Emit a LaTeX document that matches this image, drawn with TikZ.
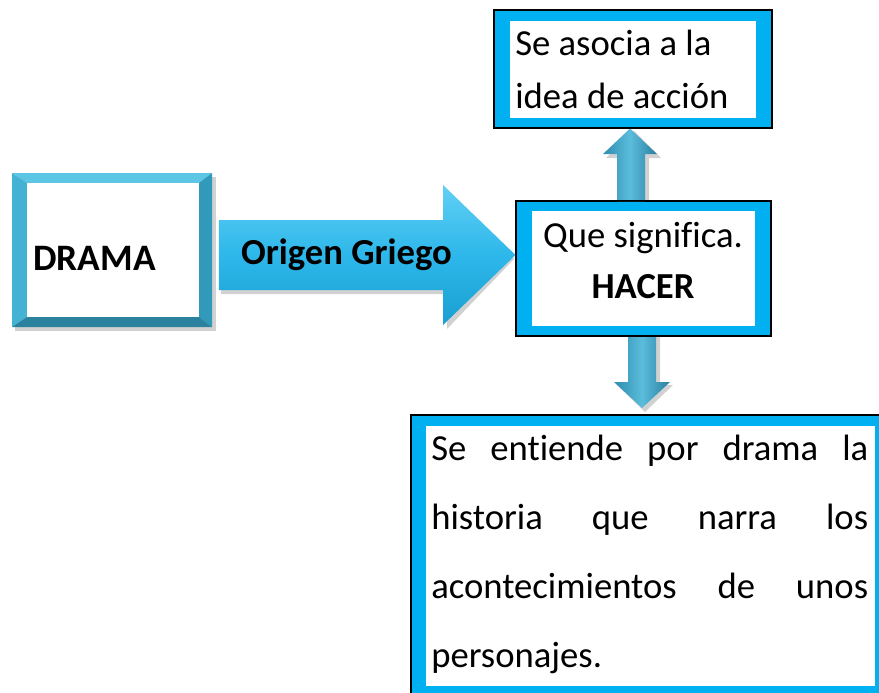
\documentclass[tikz,border=0pt]{standalone}
\usepackage{fontspec}
\setmainfont{Carlito}[Ligatures={NoCommon}]
\usetikzlibrary{fit,shadows}
\definecolor{ringcyan}{HTML}{00B0F0}
\definecolor{bevtop}{HTML}{5CC6E4}
\definecolor{bevleft}{HTML}{44B2D3}
\definecolor{bevright}{HTML}{3199BA}
\definecolor{bevbot}{HTML}{2A829F}
\definecolor{arrlight}{HTML}{62D0F4}
\definecolor{arrmid}{HTML}{2DB7EA}
\definecolor{arrdark}{HTML}{1A9FD2}
\definecolor{tealL}{HTML}{2F8DB0}
\definecolor{tealM}{HTML}{5BBCDB}
\definecolor{tealR}{HTML}{2A7FA0}
\tikzset{
  txt/.style={font=\fontsize{27.5}{40}\selectfont, inner sep=0pt},
  ringouter/.style={draw=black, line width=0.8pt, fill=ringcyan, inner sep=0pt},
  ringinner/.style={fill=white, inner sep=0pt},
  shadowish/.style={fill=black, opacity=0.18},
  bigarrow/.style={top color=arrlight, bottom color=arrdark, middle color=arrmid},
  smallarrow/.style={left color=tealL, right color=tealR, middle color=tealM},
}
\begin{document}
\begin{tikzpicture}[x=0.75pt,y=-0.75pt]
\clip (0,0) rectangle (879,693);
\fill[white] (0,0) rectangle (879,693);

% ---- DRAMA bevel box ----
\fill[shadowish] (15,177) rectangle (216,331);
\node[fit={(12,173)(212,327)}, inner sep=0pt] (drama) {};
\fill[bevtop]   (12,173) -- (212,173) -- (199,183) -- (27,183) -- cycle;
\fill[bevleft]  (12,173) -- (27,183) -- (27,317) -- (12,327) -- cycle;
\fill[bevright] (212,173) -- (212,327) -- (199,317) -- (199,183) -- cycle;
\fill[bevbot]   (12,327) -- (212,327) -- (199,317) -- (27,317) -- cycle;
\fill[white] (27,183) rectangle (199,317);
\node[txt, anchor=base west, font=\fontsize{28}{40}\selectfont\bfseries] (dramatxt) at (33,270) {DRAMA};

% ---- top box ----
\node[ringouter, fit={(494,10)(772,128)}] (top) {};
\node[ringinner, fit={(510,21)(756,118)}] (topin) {};
\node[txt, anchor=base west, align=left, font=\fontsize{27.5}{39.75}\selectfont] (toptxt) at (515,108)
  {Se asocia a la\\idea de acción};

% ---- middle box ----
\node[ringouter, fit={(516,201)(771,336)}] (mid) {};
\node[ringinner, fit={(532,211)(755,326)}] (midin) {};
\node[txt, anchor=base, align=center, font=\fontsize{27.5}{38.25}\selectfont] (midtxt) at (643,298)
  {Que significa.\\\textbf{HACER}};

% ---- bottom box ----
\node[ringouter, fit={(411,415)(900,710)}] (bot) {};
\node[ringinner, fit={(426,426)(875,686)}] (botin) {};
\node[txt, anchor=base west, align=left, font=\fontsize{27.5}{51.75}\selectfont] (bottxt) at (431,667)
  {\makebox[327.75pt][s]{Se entiende por drama la}\\
   \makebox[327.75pt][s]{historia que narra los}\\
   \makebox[327.75pt][s]{acontecimientos de unos}\\
   personajes.};

% ---- big arrow DRAMA -> mid ----
\coordinate (ga) at (drama.east |- 0,255);
\fill[shadowish] ([shift={(7,4)}]ga |- 0,220) -- (447,224) -- (447,189) -- (514,259) -- (447,329) -- (447,294) -- (221,294) -- cycle;
\path[bigarrow] ([xshift=5]ga |- 0,220) -- (443,220) -- (443,185) -- (mid.west |- ga) -- (443,325) -- (443,290) -- ([xshift=5]ga |- 0,290) -- cycle;
\node[txt, anchor=base, font=\fontsize{27.5}{40}\selectfont\bfseries] (origen) at (346.5,264) {Origen Griego};

% ---- up arrow mid -> top ----
\fill[shadowish] (620,201) -- (620,158) -- (606,158) -- (634,131) -- (661,158) -- (649,158) -- (649,201) -- cycle;
\path[smallarrow] (617,201) -- (617,154) -- (603,154) -- (top.south -| 630,0) -- (657,154) -- (645,154) -- (645,201) -- cycle;

% ---- down arrow mid -> bottom ----
\fill[shadowish] (631,336) -- (631,385) -- (617,385) -- (645,412) -- (673,385) -- (660,385) -- (660,336) -- cycle;
\path[smallarrow] (628,336) -- (628,382) -- (614,382) -- (642,408) -- (670,382) -- (656,382) -- (656,336) -- cycle;

% redraw box edges over shadows
\draw[black, line width=0.8pt] (mid.north west) rectangle (mid.south east);
\end{tikzpicture}
\end{document}
